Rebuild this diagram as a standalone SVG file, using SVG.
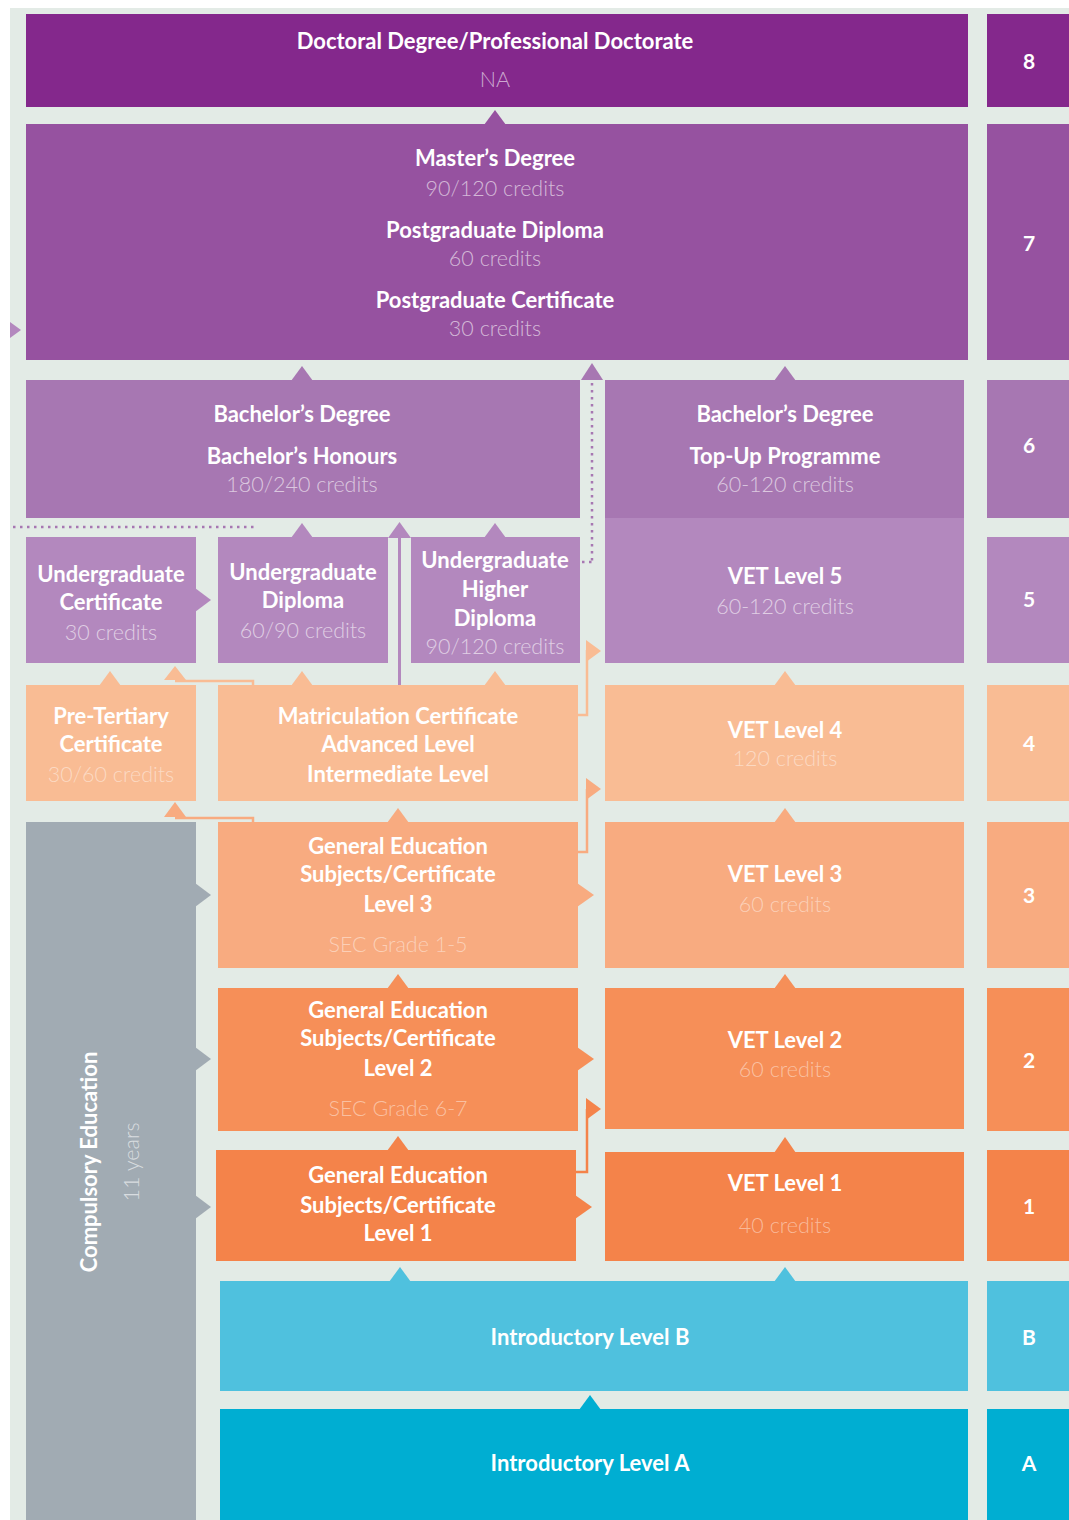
<svg xmlns="http://www.w3.org/2000/svg" width="1069" height="1520" viewBox="0 0 1069 1520">
<style>
text{font-family:Lato,"Open Sans","Liberation Sans",sans-serif;text-anchor:middle;fill:#fff}
.t{font-size:22px;font-weight:700}
.s{font-size:21.5px;font-weight:300;fill-opacity:0.6}
.so{font-size:21.5px;font-weight:300;fill-opacity:0.45}
.n{font-size:21px;font-weight:700}
.l8{fill:#84288c}.l7{fill:#9652a0}.l6{fill:#a777b2}.l5{fill:#b388be}
.l4{fill:#f9bc94}.l3{fill:#f8ab80}.l2{fill:#f68f58}.l1{fill:#f4834a}
.lb{fill:#4fc1de}.la{fill:#00aed2}.gr{fill:#a1abb3}
</style>
<rect x="0" y="0" width="1069" height="1520" fill="#ffffff"/>
<rect x="10" y="8" width="1059" height="1512" fill="#e3ebe6"/>

<g id="connectors">
  <!-- up arrowheads -->
  <polygon class="l7" points="484,125 495,110 506,125"/>
  <polygon class="l6" points="291,381 302,366 313,381"/>
  <polygon class="l6" points="774,381 785,366 796,381"/>
  <polygon class="l5" points="774,519 785,504 796,519"/>
  <polygon class="l5" points="291,538 302,523 313,538"/>
  <polygon class="l5" points="484,538 495,523 506,538"/>
  <line x1="399.5" y1="530" x2="399.5" y2="686" stroke="#b388be" stroke-width="3"/>
  <polygon class="l5" points="388,538 399.5,522 411,538"/>
  <polygon class="l4" points="99,686 110,671 121,686"/>
  <polygon class="l4" points="291,686 302,671 313,686"/>
  <polygon class="l4" points="484,686 495,671 506,686"/>
  <polygon class="l4" points="774,686 785,671 796,686"/>
  <polyline points="253,686 253,681 175,681" fill="none" stroke="#f9bc94" stroke-width="2.5"/>
  <polygon class="l4" points="164,680 175,666 186,680"/>
  <polygon class="l3" points="387,823 398,808 409,823"/>
  <polygon class="l3" points="774,823 785,808 796,823"/>
  <polyline points="253,823 253,818 175,818" fill="none" stroke="#f8ab80" stroke-width="2.5"/>
  <polygon class="l3" points="164,817 175,802 186,817"/>
  <polygon class="l2" points="387,989 398,974 409,989"/>
  <polygon class="l2" points="774,989 785,974 796,989"/>
  <polygon class="l1" points="387,1151 398,1136 409,1151"/>
  <polygon class="l1" points="774,1153 785,1137 796,1153"/>
  <polygon class="lb" points="389,1282 400,1267 411,1282"/>
  <polygon class="lb" points="774,1282 785,1267 796,1282"/>
  <polygon class="la" points="579,1410 590,1395 601,1410"/>
  <!-- right arrowheads -->
  <polygon class="l5" points="195,588 211,600 195,612"/>
  <polygon class="gr" points="195,883 211,895 195,907"/>
  <polygon class="gr" points="195,1047 211,1059 195,1071"/>
  <polygon class="gr" points="195,1195 211,1207 195,1219"/>
  <polygon class="l3" points="577,883 594,895 577,907"/>
  <polygon class="l2" points="577,1047 594,1059 577,1071"/>
  <polygon class="l1" points="575,1195 592,1207 575,1219"/>
  <!-- flags -->
  <polyline points="578,715 587,715 587,650" fill="none" stroke="#f9bc94" stroke-width="2.5"/>
  <polygon class="l4" points="586,640 601,651 586,662"/>
  <polyline points="578,852 587,852 587,789" fill="none" stroke="#f8ab80" stroke-width="2.5"/>
  <polygon class="l3" points="586,778 601,789 586,800"/>
  <polyline points="576,1172 587,1172 587,1109" fill="none" stroke="#f4834a" stroke-width="2.5"/>
  <polygon class="l1" points="586,1098 601,1109 586,1120"/>
  <!-- dotted links -->
  <line x1="592" y1="376" x2="592" y2="562" stroke="#a777b2" stroke-width="2.5" stroke-dasharray="2.5,4.5"/>
  <line x1="582" y1="562" x2="592" y2="562" stroke="#a777b2" stroke-width="2.5" stroke-dasharray="2.5,4.5"/>
  <polygon class="l6" points="581,380 592,363 603,380"/>
  <line x1="13" y1="527" x2="256" y2="527" stroke="#a777b2" stroke-width="2.5" stroke-dasharray="2.5,4.5"/>
  <polygon class="l5" points="10,322 21,330 10,338"/>
</g>

<g id="level8">
  <rect class="l8" x="26" y="14" width="942" height="93"/>
  <text class="t" x="495" y="49">Doctoral Degree/Professional Doctorate</text>
  <text class="s" x="495" y="87">NA</text>
</g>
<g id="level7">
  <rect class="l7" x="26" y="124" width="942" height="236"/>
  <text class="t" x="495" y="166">Master’s Degree</text>
  <text class="s" x="495" y="196">90/120 credits</text>
  <text class="t" x="495" y="238">Postgraduate Diploma</text>
  <text class="s" x="495" y="266">60 credits</text>
  <text class="t" x="495" y="308">Postgraduate Certificate</text>
  <text class="s" x="495" y="336">30 credits</text>
</g>
<g id="bachelor">
  <rect class="l6" x="26" y="380" width="554" height="138"/>
  <text class="t" x="302" y="422">Bachelor’s Degree</text>
  <text class="t" x="302" y="464">Bachelor’s Honours</text>
  <text class="s" x="302" y="492">180/240 credits</text>
</g>
<g id="topup">
  <rect class="l6" x="605" y="380" width="359" height="138"/>
  <text class="t" x="785" y="422">Bachelor’s Degree</text>
  <text class="t" x="785" y="464">Top-Up Programme</text>
  <text class="s" x="785" y="492">60-120 credits</text>
</g>
<g id="ugcert">
  <rect class="l5" x="26" y="537" width="170" height="126"/>
  <text class="t" x="111" y="582">Undergraduate</text>
  <text class="t" x="111" y="610">Certificate</text>
  <text class="s" x="111" y="640">30 credits</text>
</g>
<g id="ugdip">
  <rect class="l5" x="218" y="537" width="170" height="126"/>
  <text class="t" x="303" y="580">Undergraduate</text>
  <text class="t" x="303" y="608">Diploma</text>
  <text class="s" x="303" y="638">60/90 credits</text>
</g>
<g id="ughigher">
  <rect class="l5" x="411" y="537" width="169" height="126"/>
  <text class="t" x="495" y="568">Undergraduate</text>
  <text class="t" x="495" y="597">Higher</text>
  <text class="t" x="495" y="626">Diploma</text>
  <text class="s" x="495" y="654">90/120 credits</text>
</g>
<g id="vet5">
  <rect class="l5" x="605" y="518" width="359" height="145"/>
  <text class="t" x="785" y="584">VET Level 5</text>
  <text class="s" x="785" y="614">60-120 credits</text>
</g>
<g id="pretertiary">
  <rect class="l4" x="26" y="685" width="170" height="116"/>
  <text class="t" x="111" y="724">Pre-Tertiary</text>
  <text class="t" x="111" y="752">Certificate</text>
  <text class="so" x="111" y="782">30/60 credits</text>
</g>
<g id="matriculation">
  <rect class="l4" x="218" y="685" width="360" height="116"/>
  <text class="t" x="398" y="724">Matriculation Certificate</text>
  <text class="t" x="398" y="752">Advanced Level</text>
  <text class="t" x="398" y="782">Intermediate Level</text>
</g>
<g id="vet4">
  <rect class="l4" x="605" y="685" width="359" height="116"/>
  <text class="t" x="785" y="738">VET Level 4</text>
  <text class="so" x="785" y="766">120 credits</text>
</g>
<g id="compulsory">
  <rect class="gr" x="26" y="822" width="170" height="698"/>
  <text class="t" transform="translate(97,1162) rotate(-90)">Compulsory Education</text>
  <text class="s" transform="translate(139,1162) rotate(-90)">11 years</text>
</g>
<g id="gened3">
  <rect class="l3" x="218" y="822" width="360" height="146"/>
  <text class="t" x="398" y="854">General Education</text>
  <text class="t" x="398" y="882">Subjects/Certificate</text>
  <text class="t" x="398" y="912">Level 3</text>
  <text class="so" x="398" y="952">SEC Grade 1-5</text>
</g>
<g id="vet3">
  <rect class="l3" x="605" y="822" width="359" height="146"/>
  <text class="t" x="785" y="882">VET Level 3</text>
  <text class="so" x="785" y="912">60 credits</text>
</g>
<g id="gened2">
  <rect class="l2" x="218" y="988" width="360" height="143"/>
  <text class="t" x="398" y="1018">General Education</text>
  <text class="t" x="398" y="1046">Subjects/Certificate</text>
  <text class="t" x="398" y="1076">Level 2</text>
  <text class="so" x="398" y="1116">SEC Grade 6-7</text>
</g>
<g id="vet2">
  <rect class="l2" x="605" y="988" width="359" height="141"/>
  <text class="t" x="785" y="1048">VET Level 2</text>
  <text class="so" x="785" y="1077">60 credits</text>
</g>
<g id="gened1">
  <rect class="l1" x="216" y="1150" width="360" height="111"/>
  <text class="t" x="398" y="1183">General Education</text>
  <text class="t" x="398" y="1213">Subjects/Certificate</text>
  <text class="t" x="398" y="1241">Level 1</text>
</g>
<g id="vet1">
  <rect class="l1" x="605" y="1152" width="359" height="109"/>
  <text class="t" x="785" y="1191">VET Level 1</text>
  <text class="so" x="785" y="1233">40 credits</text>
</g>
<g id="introB">
  <rect class="lb" x="220" y="1281" width="748" height="110"/>
  <text class="t" x="590" y="1345">Introductory Level B</text>
</g>
<g id="introA">
  <rect class="la" x="220" y="1409" width="748" height="111"/>
  <text class="t" x="590" y="1471">Introductory Level A</text>
</g>

<g id="levels">
  <rect class="l8" x="987" y="14" width="82" height="93"/><text class="n" x="1029" y="69">8</text>
  <rect class="l7" x="987" y="124" width="82" height="236"/><text class="n" x="1029" y="251">7</text>
  <rect class="l6" x="987" y="380" width="82" height="138"/><text class="n" x="1029" y="453">6</text>
  <rect class="l5" x="987" y="537" width="82" height="126"/><text class="n" x="1029" y="607">5</text>
  <rect class="l4" x="987" y="685" width="82" height="116"/><text class="n" x="1029" y="751">4</text>
  <rect class="l3" x="987" y="822" width="82" height="146"/><text class="n" x="1029" y="903">3</text>
  <rect class="l2" x="987" y="988" width="82" height="143"/><text class="n" x="1029" y="1068">2</text>
  <rect class="l1" x="987" y="1150" width="82" height="111"/><text class="n" x="1029" y="1214">1</text>
  <rect class="lb" x="987" y="1281" width="82" height="110"/><text class="n" x="1029" y="1345">B</text>
  <rect class="la" x="987" y="1409" width="82" height="111"/><text class="n" x="1029" y="1471">A</text>
</g>
</svg>
